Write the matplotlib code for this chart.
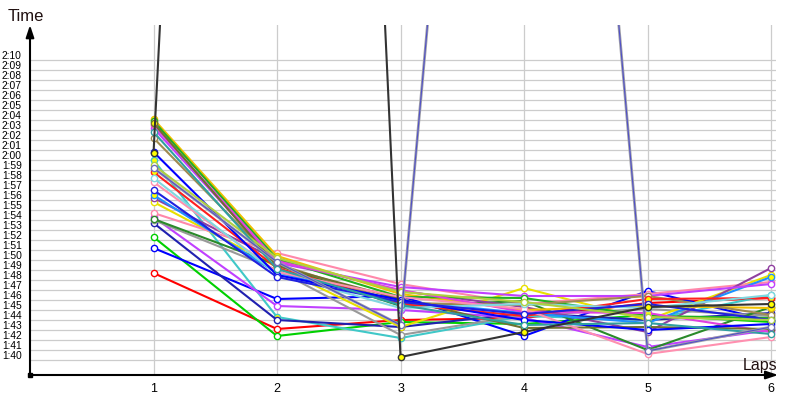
import matplotlib
matplotlib.use('Agg')
import matplotlib.pyplot as plt
import matplotlib.transforms as mtransforms

# ---- data (lap times in seconds) ----
laps = [1, 2, 3, 4, 5, 6]
time_ticks = list(range(100, 131))
time_labels = [f"{s // 60}:{s % 60:02d}" for s in time_ticks]

s_red = [108.7, 103.1, 104.0, 104.2, 105.7, 106.2]
s_lime = [112.3, 102.4, 103.8, 103.6, 104.5, 103.8]
s_blue = [111.2, 106.1, 106.4, 102.4, 106.9, 103.9]
s_cyan = [120.0, 104.3, 102.2, 104.4, 104.0, 106.5]
s_navy = [113.7, 104.0, 103.3, 104.7, 104.0, 104.7]
s_violet = [114.3, 105.4, 105.0, 104.2, 101.3, 103.0]
s_gray = [114.0, 109.0, 102.5, 104.5, 105.1, 104.4]
s_yellow = [115.8, 109.3, 103.3, 107.2, 104.0, 108.5]
s_pink = [114.7, 110.7, 107.6, 105.6, 106.6, 107.8]
s_dkgreen = [114.1, 109.5, 105.4, 105.9, 101.0, 105.3]
s_purple = [116.2, 110.0, 106.9, 105.3, 102.8, 109.2]
s_dodger = [116.5, 108.7, 105.9, 104.7, 103.7, 108.3]
s_violet2 = [123.2, 109.7, 107.3, 106.4, 106.4, 107.6]
s_orange = [124.1, 110.4, 106.6, 105.0, 105.4, 105.2]
s_green = [123.9, 110.1, 106.3, 106.2, 104.4, 104.2]
s_olive = [122.2, 109.6, 105.7, 105.5, 106.4, 104.5]
s_magenta = [123.5, 109.9, 107.0, 104.8, 104.7, 102.8]
s_dkolive = [123.7, 109.4, 106.1, 103.2, 103.3, 103.1]
s_red2 = [118.8, 109.2, 105.6, 104.4, 106.1, 106.2]
s_pink2 = [117.8, 108.8, 106.3, 105.1, 100.6, 102.3]
s_ltcyan = [118.2, 108.6, 105.2, 105.6, 105.2, 106.5]
s_blue2 = [120.8, 108.5, 106.0, 104.0, 103.0, 103.6]
s_blue3 = [117.0, 108.3, 105.8, 104.6, 105.6, 104.0]
s_ygreen = [119.5, 110.2, 106.8, 105.8, 104.3, 104.0]
s_teal = [122.8, 109.1, 105.5, 103.5, 103.7, 102.6]
s_slate = [119.2, 109.8, 103.5, 241.0, 100.9, 103.3]
s_black = [120.7, 365.0, 100.3, 102.8, 105.3, 105.6]

# ---- styles ----
series = [
    (s_red, '#ff0000', 'white'),
    (s_lime, '#00d000', 'white'),
    (s_blue, '#0000ff', 'white'),
    (s_cyan, '#40c8c8', '#ffff00'),
    (s_navy, '#2020b0', 'white'),
    (s_violet, '#c040ff', 'white'),
    (s_gray, '#999999', 'white'),
    (s_yellow, '#e8e000', 'white'),
    (s_pink, '#ff88aa', 'white'),
    (s_dkgreen, '#2a8a2a', 'white'),
    (s_purple, '#9040a0', 'white'),
    (s_dodger, '#1e90ff', '#ffff00'),
    (s_violet2, '#c040ff', 'white'),
    (s_orange, '#f0c000', '#ffff00'),
    (s_green, '#20b020', 'white'),
    (s_olive, '#a08a50', 'white'),
    (s_magenta, '#e040e0', '#ffff00'),
    (s_dkolive, '#707030', '#ffff00'),
    (s_red2, '#ff2020', '#ffff00'),
    (s_pink2, '#ff90b0', 'white'),
    (s_ltcyan, '#80d8e0', 'white'),
    (s_blue2, '#0000ff', 'white'),
    (s_blue3, '#2020e0', 'white'),
    (s_ygreen, '#b0d040', 'white'),
    (s_teal, '#30a0a0', 'white'),
]

plt.rcParams['font.family'] = ['Liberation Sans', 'DejaVu Sans']

fig = plt.figure(figsize=(8, 4), dpi=100)
ax = fig.add_axes([30 / 800, 25 / 400, 746 / 800, 350 / 400])

for vals, col, mfc in series:
    ax.plot(laps, vals, '-', color=col, lw=1.5, marker='o', ms=4.5,
            mfc=mfc, mec=col, mew=1.0, zorder=3)

# the slate series: grey line with a thin blue core
ax.plot(laps, s_slate, '-', color='#a0a0a8', lw=2.0, zorder=3)
ax.plot(laps, s_slate, '-', color='#5050c8', lw=0.8, marker='o', ms=4.5,
        mfc='white', mec='#7070b8', mew=1.0, zorder=3)
# black series
ax.plot(laps, s_black, '-', color='#333333', lw=1.5, marker='o', ms=4.5,
        mfc='#ffff00', mec='#333333', mew=1.0, zorder=4)

ax.set_xlim(0, 6.04)
ax.set_ylim(98.5, 133.5)

ax.set_yticks(time_ticks)
ax.set_yticklabels(time_labels, fontsize=7.4)
ax.set_xticks(laps)
ax.set_xticklabels([str(l) for l in laps], fontsize=9)
ax.tick_params(axis='both', length=0)
ax.tick_params(axis='y', pad=6)
ax.tick_params(axis='x', pad=6)

off = mtransforms.ScaledTranslation(0, 1 / 100, fig.dpi_scale_trans)
for lab in ax.get_yticklabels():
    lab.set_va('baseline')
    lab.set_transform(lab.get_transform() + off)

ax.grid(True, color='#cccccc', lw=0.9, zorder=0)
ax.set_axisbelow(True)
for sp in ax.spines.values():
    sp.set_visible(False)

# axes with arrows
ax.annotate('', xy=(0, 1), xytext=(0, 0), xycoords='axes fraction',
            arrowprops=dict(arrowstyle='-|>,head_length=0.6,head_width=0.2',
                            lw=1.5, color='black', mutation_scale=12,
                            shrinkA=0, shrinkB=0), annotation_clip=False)
ax.annotate('', xy=(1.003, 0), xytext=(0, 0), xycoords='axes fraction',
            arrowprops=dict(arrowstyle='-|>,head_length=0.6,head_width=0.2',
                            lw=1.5, color='black', mutation_scale=12,
                            shrinkA=0, shrinkB=0), annotation_clip=False)
ax.plot(0, 0, 's', transform=ax.transAxes, ms=3, color='black', clip_on=False, zorder=5)

fig.text(8 / 800, (400 - 20.7) / 400, 'Time', fontsize=12, va='baseline',
         ha='left', color='#201010')
fig.text(743 / 800, (400 - 370) / 400, 'Laps', fontsize=11.5, va='baseline',
         ha='left', color='#201010')

fig.savefig('out.png', dpi=100)
